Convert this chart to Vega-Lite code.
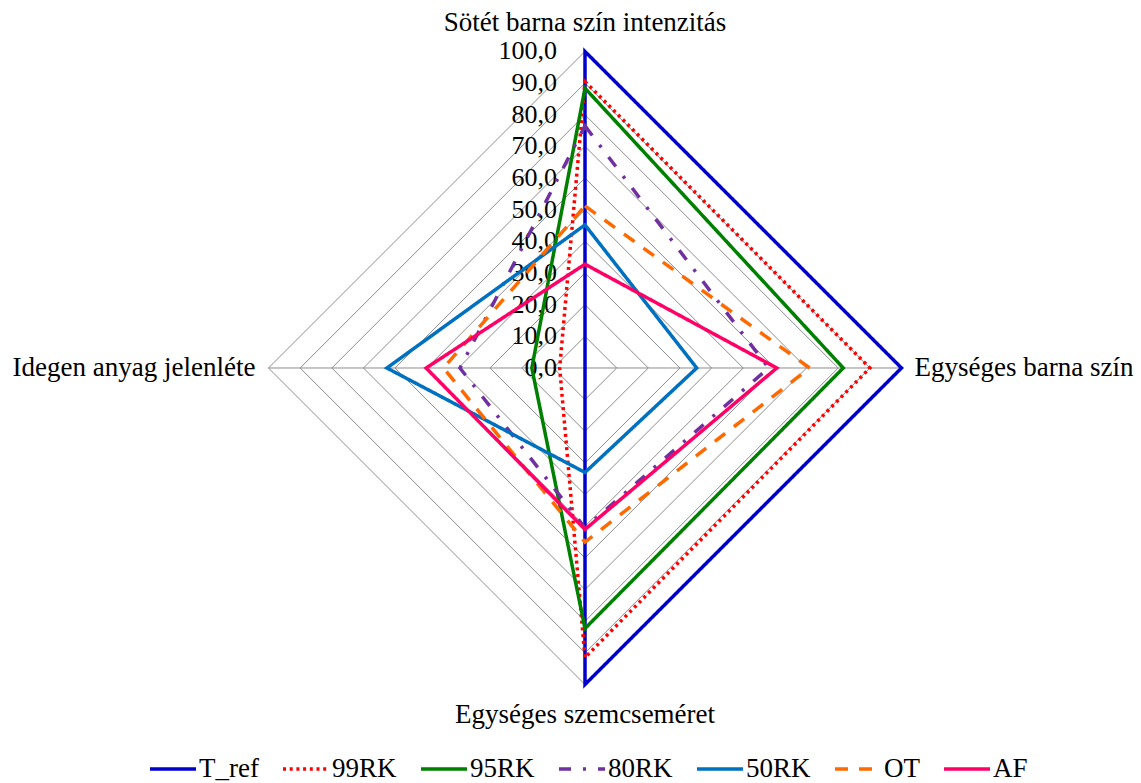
{
  "$schema": "https://vega.github.io/schema/vega-lite/v6.json",
  "width": 1141,
  "height": 783,
  "autosize": {"type": "none"},
  "padding": 0,
  "background": "white",
  "config": {
    "view": {"stroke": null},
    "font": "Liberation Serif",
    "text": {"font": "Liberation Serif", "fontSize": 27, "color": "black"}
  },
  "datasets": {
    "scores": [
      {"series": "T_ref", "axis": "Sötét barna szín intenzitás", "k": 0, "value": 100},
      {"series": "T_ref", "axis": "Egységes barna szín", "k": 1, "value": 100},
      {"series": "T_ref", "axis": "Egységes szemcseméret", "k": 2, "value": 100},
      {"series": "T_ref", "axis": "Idegen anyag jelenléte", "k": 3, "value": 0},
      {"series": "99RK", "axis": "Sötét barna szín intenzitás", "k": 0, "value": 90.5},
      {"series": "99RK", "axis": "Egységes barna szín", "k": 1, "value": 90},
      {"series": "99RK", "axis": "Egységes szemcseméret", "k": 2, "value": 91.5},
      {"series": "99RK", "axis": "Idegen anyag jelenléte", "k": 3, "value": 8},
      {"series": "95RK", "axis": "Sötét barna szín intenzitás", "k": 0, "value": 88.4},
      {"series": "95RK", "axis": "Egységes barna szín", "k": 1, "value": 81.6},
      {"series": "95RK", "axis": "Egységes szemcseméret", "k": 2, "value": 82.3},
      {"series": "95RK", "axis": "Idegen anyag jelenléte", "k": 3, "value": 16.8},
      {"series": "80RK", "axis": "Sötét barna szín intenzitás", "k": 0, "value": 76.5},
      {"series": "80RK", "axis": "Egységes barna szín", "k": 1, "value": 58},
      {"series": "80RK", "axis": "Egységes szemcseméret", "k": 2, "value": 50.5},
      {"series": "80RK", "axis": "Idegen anyag jelenléte", "k": 3, "value": 39.5},
      {"series": "50RK", "axis": "Sötét barna szín intenzitás", "k": 0, "value": 45.2},
      {"series": "50RK", "axis": "Egységes barna szín", "k": 1, "value": 35.3},
      {"series": "50RK", "axis": "Egységes szemcseméret", "k": 2, "value": 33},
      {"series": "50RK", "axis": "Idegen anyag jelenléte", "k": 3, "value": 62.6},
      {"series": "OT", "axis": "Sötét barna szín intenzitás", "k": 0, "value": 51.2},
      {"series": "OT", "axis": "Egységes barna szín", "k": 1, "value": 71},
      {"series": "OT", "axis": "Egységes szemcseméret", "k": 2, "value": 55},
      {"series": "OT", "axis": "Idegen anyag jelenléte", "k": 3, "value": 44.7},
      {"series": "AF", "axis": "Sötét barna szín intenzitás", "k": 0, "value": 32.8},
      {"series": "AF", "axis": "Egységes barna szín", "k": 1, "value": 60.6},
      {"series": "AF", "axis": "Egységes szemcseméret", "k": 2, "value": 51},
      {"series": "AF", "axis": "Idegen anyag jelenléte", "k": 3, "value": 50.2}
    ],
    "axes": [
      {"axis": "Sötét barna szín intenzitás", "k": 0},
      {"axis": "Egységes barna szín", "k": 1},
      {"axis": "Egységes szemcseméret", "k": 2},
      {"axis": "Idegen anyag jelenléte", "k": 3}
    ],
    "levels": [
      {"level": 0, "k": [0, 1, 2, 3]},
      {"level": 10, "k": [0, 1, 2, 3]},
      {"level": 20, "k": [0, 1, 2, 3]},
      {"level": 30, "k": [0, 1, 2, 3]},
      {"level": 40, "k": [0, 1, 2, 3]},
      {"level": 50, "k": [0, 1, 2, 3]},
      {"level": 60, "k": [0, 1, 2, 3]},
      {"level": 70, "k": [0, 1, 2, 3]},
      {"level": 80, "k": [0, 1, 2, 3]},
      {"level": 90, "k": [0, 1, 2, 3]},
      {"level": 100, "k": [0, 1, 2, 3]}
    ]
  },
  "layer": [
    {
      "description": "Diamond gridlines, one closed ring per level",
      "data": {"name": "levels"},
      "transform": [
        {"filter": "datum.level > 0"},
        {"flatten": ["k"]},
        {"calculate": "datum.level * round(sin(datum.k * PI / 2))", "as": "x"},
        {"calculate": "datum.level * round(cos(datum.k * PI / 2))", "as": "y"}
      ],
      "mark": {"type": "line", "interpolate": "linear-closed", "stroke": "#8c8c8c", "strokeWidth": 1},
      "encoding": {
        "x": {"field": "x", "type": "quantitative", "scale": {"domain": [-184.83, 175.67], "nice": false, "zero": false}, "axis": null},
        "y": {"field": "y", "type": "quantitative", "scale": {"domain": [-131.12, 116.27], "nice": false, "zero": false}, "axis": null},
        "detail": {"field": "level"},
        "order": {"field": "k"}
      }
    },
    {
      "description": "Spokes from the centre to each category",
      "data": {"name": "axes"},
      "transform": [
        {"calculate": "0", "as": "cx"},
        {"calculate": "0", "as": "cy"},
        {"calculate": "100 * round(sin(datum.k * PI / 2))", "as": "x"},
        {"calculate": "100 * round(cos(datum.k * PI / 2))", "as": "y"}
      ],
      "mark": {"type": "rule", "stroke": "#8c8c8c", "strokeWidth": 1},
      "encoding": {
        "x": {"field": "cx", "type": "quantitative"},
        "y": {"field": "cy", "type": "quantitative"},
        "x2": {"field": "x"},
        "y2": {"field": "y"}
      }
    },
    {
      "description": "Radial tick labels with decimal comma",
      "data": {"name": "levels"},
      "transform": [
        {"calculate": "replace(format(datum.level, '.1f'), '.', ',')", "as": "label"},
        {"calculate": "0", "as": "x"}
      ],
      "mark": {"type": "text", "align": "right", "baseline": "middle", "dx": -28, "fontSize": 26},
      "encoding": {
        "x": {"field": "x", "type": "quantitative"},
        "y": {"field": "level", "type": "quantitative"},
        "text": {"field": "label"}
      }
    },
    {
      "data": {"name": "axes"},
      "transform": [
        {"filter": "datum.k == 0"},
        {"calculate": "0", "as": "x"},
        {"calculate": "100", "as": "y"}
      ],
      "mark": {"type": "text", "align": "center", "baseline": "alphabetic", "dy": -20},
      "encoding": {
        "x": {"field": "x", "type": "quantitative"},
        "y": {"field": "y", "type": "quantitative"},
        "text": {"field": "axis"}
      }
    },
    {
      "data": {"name": "axes"},
      "transform": [
        {"filter": "datum.k == 1"},
        {"calculate": "100", "as": "x"},
        {"calculate": "0", "as": "y"}
      ],
      "mark": {"type": "text", "align": "left", "baseline": "middle", "dx": 13},
      "encoding": {
        "x": {"field": "x", "type": "quantitative"},
        "y": {"field": "y", "type": "quantitative"},
        "text": {"field": "axis"}
      }
    },
    {
      "data": {"name": "axes"},
      "transform": [
        {"filter": "datum.k == 2"},
        {"calculate": "0", "as": "x"},
        {"calculate": "-100", "as": "y"}
      ],
      "mark": {"type": "text", "align": "center", "baseline": "alphabetic", "dy": 38},
      "encoding": {
        "x": {"field": "x", "type": "quantitative"},
        "y": {"field": "y", "type": "quantitative"},
        "text": {"field": "axis"}
      }
    },
    {
      "data": {"name": "axes"},
      "transform": [
        {"filter": "datum.k == 3"},
        {"calculate": "-100", "as": "x"},
        {"calculate": "0", "as": "y"}
      ],
      "mark": {"type": "text", "align": "right", "baseline": "middle", "dx": -13},
      "encoding": {
        "x": {"field": "x", "type": "quantitative"},
        "y": {"field": "y", "type": "quantitative"},
        "text": {"field": "axis"}
      }
    },
    {
      "description": "One closed polygon per sample",
      "data": {"name": "scores"},
      "transform": [
        {"calculate": "datum.value * round(sin(datum.k * PI / 2))", "as": "x"},
        {"calculate": "datum.value * round(cos(datum.k * PI / 2))", "as": "y"}
      ],
      "mark": {"type": "line", "interpolate": "linear-closed", "strokeWidth": 3.5, "strokeJoin": "miter"},
      "encoding": {
        "x": {"field": "x", "type": "quantitative"},
        "y": {"field": "y", "type": "quantitative"},
        "order": {"field": "k"},
        "color": {
          "field": "series",
          "type": "nominal",
          "sort": null,
          "scale": {
            "domain": ["T_ref", "99RK", "95RK", "80RK", "50RK", "OT", "AF"],
            "range": ["#0000cc", "#ff0000", "#008000", "#7030a0", "#0070c0", "#ff6a00", "#ff0066"]
          },
          "legend": {
            "orient": "none",
            "legendX": 148,
            "legendY": 744,
            "direction": "horizontal",
            "columns": 7,
            "title": null,
            "symbolType": "stroke",
            "symbolSize": 2116,
            "symbolStrokeWidth": 3.5,
            "labelFont": "Liberation Serif",
            "labelFontSize": 27,
            "labelColor": "black",
            "labelOffset": 1,
            "labelLimit": 0,
            "columnPadding": 17
          }
        },
        "strokeDash": {
          "field": "series",
          "type": "nominal",
          "sort": null,
          "scale": {
            "domain": ["T_ref", "99RK", "95RK", "80RK", "50RK", "OT", "AF"],
            "range": [[1, 0], [3, 3.7], [1, 0], [12, 12, 3, 12], [1, 0], [13, 11], [1, 0]]
          }
        }
      }
    }
  ]
}
